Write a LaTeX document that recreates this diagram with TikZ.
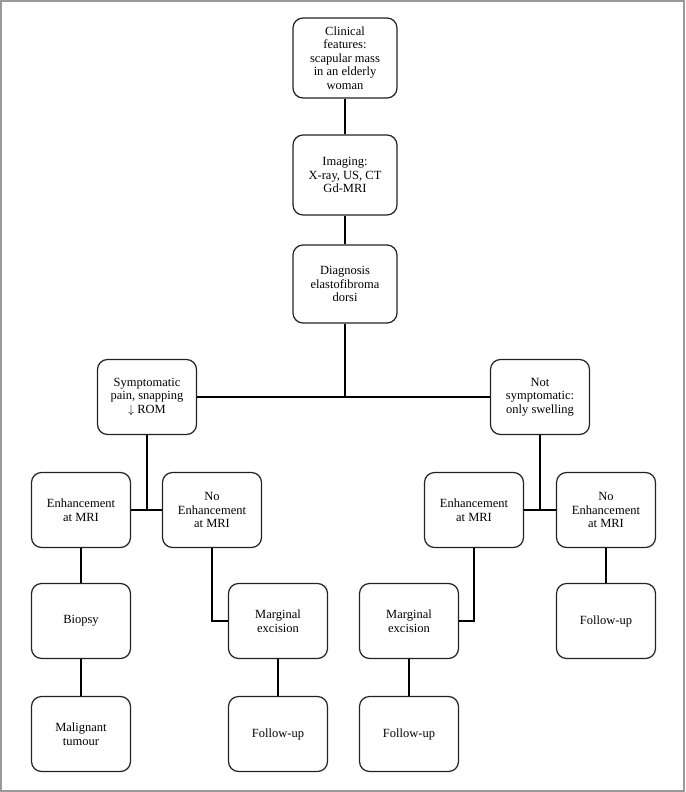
\documentclass[tikz,border=0pt]{standalone}
\usepackage{fontspec}
\setmainfont{Liberation Serif}
\usepackage{amssymb}
\usetikzlibrary{positioning,calc}
\definecolor{border}{HTML}{222222}
\definecolor{frameGray}{HTML}{9A9A9A}
\tikzset{
  stepbox/.style={
    rectangle, rounded corners=10pt, draw=border, fill=white,
    minimum width=99pt, minimum height=75pt, align=center,
    font=\fontsize{12.5}{13.5}\selectfont, inner sep=3pt, line width=1.2pt,
  },
  topbox/.style={
    stepbox, minimum width=104pt, minimum height=80pt,
  },
  link/.style={black, line width=2.4pt},
}

\begin{document}
\begin{tikzpicture}[x=1pt, y=-1pt]

  \useasboundingbox (0,0) rectangle (685,792);
  \draw[frameGray, line width=1.4pt] (1,1) rectangle (684,791);

  % Top column
  \node[topbox] (clin) at (345, 58) {Clinical\\features:\\scapular mass\\in an elderly\\woman};
  \node[topbox] (img) at (345, 175) {Imaging:\\X-ray, US, CT\\Gd-MRI};
  \node[topbox, minimum height=78pt] (diag) at (345, 284) {Diagnosis\\elastofibroma\\dorsi};

  % Symptoms
  \node[stepbox] (symp) at (147, 397) {Symptomatic\\pain, snapping\\$\downarrow$ ROM};
  \node[stepbox] (nsymp) at (540, 397) {Not\\symptomatic:\\only swelling};

  % MRI row
  \node[stepbox] (enhL) at (81, 510) {Enhancement\\at MRI};
  \node[stepbox] (noenhL) at (212, 510) {No\\Enhancement\\at MRI};
  \node[stepbox] (enhR) at (474, 510) {Enhancement\\at MRI};
  \node[stepbox] (noenhR) at (606, 510) {No\\Enhancement\\at MRI};

  % Treatment
  \node[stepbox] (biopsy) at (81, 621) {Biopsy};
  \node[stepbox] (margL) at (278, 621) {Marginal\\excision};
  \node[stepbox] (margR) at (409, 621) {Marginal\\excision};
  \node[stepbox] (fupR) at (606, 621) {Follow-up};

  % Outcome
  \node[stepbox] (malig) at (81, 734) {Malignant\\tumour};
  \node[stepbox] (fupL) at (278, 734) {Follow-up};
  \node[stepbox] (fupM) at (409, 734) {Follow-up};

  \draw[link] (clin) -- (img);
  \draw[link] (img) -- (diag);
  \draw[link] (diag.south) -- (diag.south |- symp.east);
  \draw[link] (symp.east) -- (nsymp.west);

  \draw[link] (symp.south) -- (symp.south |- enhL.east);
  \draw[link] (enhL.east) -- (noenhL.west);
  \draw[link] (nsymp.south) -- (nsymp.south |- enhR.east);
  \draw[link] (enhR.east) -- (noenhR.west);

  \draw[link] (enhL) -- (biopsy);
  \draw[link] (biopsy) -- (malig);
  \draw[link] (noenhL.south) |- (margL.west);
  \draw[link] (margL) -- (fupL);
  \draw[link] (enhR.south) |- (margR.east);
  \draw[link] (margR) -- (fupM);
  \draw[link] (noenhR) -- (fupR);

\end{tikzpicture}
\end{document}
